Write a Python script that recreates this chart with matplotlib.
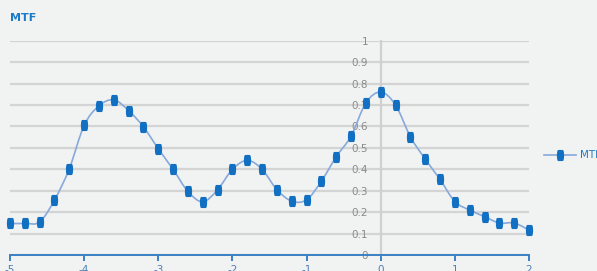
import matplotlib.pyplot as plt
import numpy as np
from matplotlib.path import Path
from matplotlib.patches import PathPatch
from matplotlib import font_manager

# prefer a narrow face, like the condensed font of the original
try:
    font_manager.findfont('Liberation Sans Narrow', fallback_to_default=False)
    plt.rcParams['font.family'] = ['Liberation Sans Narrow', 'DejaVu Sans']
    narrow = True
except Exception:
    plt.rcParams['font.family'] = ['DejaVu Sans']
    narrow = False

# MTF curve, sampled every 0.2 from -5 to 2
x_vals = [-5.0, -4.8, -4.6, -4.4, -4.2, -4.0, -3.8, -3.6, -3.4, -3.2,
          -3.0, -2.8, -2.6, -2.4, -2.2, -2.0, -1.8, -1.6, -1.4, -1.2,
          -1.0, -0.8, -0.6, -0.4, -0.2, 0.0, 0.2, 0.4, 0.6, 0.8,
          1.0, 1.2, 1.4, 1.6, 1.8, 2.0]
mtf_vals = [0.148, 0.148, 0.155, 0.257, 0.403, 0.605, 0.696, 0.724, 0.674, 0.598,
            0.496, 0.400, 0.297, 0.249, 0.305, 0.400, 0.442, 0.400, 0.305, 0.252,
            0.258, 0.345, 0.459, 0.555, 0.710, 0.760, 0.700, 0.552, 0.448, 0.353,
            0.250, 0.210, 0.180, 0.150, 0.150, 0.117]
x_ticks = [-5, -4, -3, -2, -1, 0, 1, 2]
y_ticks = [0, 0.1, 0.2, 0.3, 0.4, 0.5, 0.6, 0.7, 0.8, 0.9, 1]
y_labels = ['0', '0.1', '0.2', '0.3', '0.4', '0.5', '0.6', '0.7', '0.8', '0.9', '1']

bg = '#f1f2f2'
blue = '#1270c2'
axis_blue = '#3a80c4'
line_blue = '#86a9dc'
grey_txt = '#8a8a8a'
fs = 8.5 if narrow else 7.5


def spline_path(xs, ys, t=0.5):
    # cardinal spline as cubic bezier segments
    xs = np.asarray(xs); ys = np.asarray(ys)
    n = len(xs)
    verts = [(xs[0], ys[0])]
    codes = [Path.MOVETO]
    for i in range(n - 1):
        p0 = np.array([xs[max(i - 1, 0)], ys[max(i - 1, 0)]])
        p1 = np.array([xs[i], ys[i]])
        p2 = np.array([xs[i + 1], ys[i + 1]])
        p3 = np.array([xs[min(i + 2, n - 1)], ys[min(i + 2, n - 1)]])
        c1 = p1 + (p2 - p0) * t / 3
        c2 = p2 - (p3 - p1) * t / 3
        verts += [tuple(c1), tuple(c2), tuple(p2)]
        codes += [Path.CURVE4] * 3
    return Path(verts, codes)


# vertical capsule marker
theta = np.linspace(0, 2 * np.pi, 40)
capsule = Path(np.column_stack([0.6 * np.cos(theta),
                                np.sign(np.sin(theta)) * np.minimum(1, np.abs(np.sin(theta)) * 1.6)]))

fig = plt.figure(figsize=(5.97, 2.71), dpi=100, facecolor=bg)
ax = fig.add_axes([10 / 597, 15.8 / 271, 519 / 597, 214.6 / 271])
ax.set_facecolor(bg)

ax.set_xlim(-5, 2)
ax.set_ylim(0, 1)

ax.yaxis.grid(True, color='#d4d4d4', lw=1.6)
ax.set_axisbelow(True)

ax.add_patch(PathPatch(spline_path(x_vals, mtf_vals), fill=False, ec=line_blue, lw=1.2, zorder=3))
ax.plot(x_vals, mtf_vals, ls='none', marker=capsule, ms=7, color=blue, mec=blue, zorder=4, clip_on=False)

for s in ['top', 'right']:
    ax.spines[s].set_visible(False)
ax.spines['left'].set_position(('data', 0))
ax.spines['left'].set_color('#d0d0d0')
ax.spines['left'].set_linewidth(1.6)
ax.spines['left'].set_zorder(1)
ax.spines['bottom'].set_color(axis_blue)
ax.spines['bottom'].set_linewidth(1.4)
ax.spines['bottom'].set_zorder(2)

ax.set_yticks(y_ticks)
ax.set_yticklabels(y_labels)
ax.tick_params(axis='y', length=0, pad=9, labelsize=fs, labelcolor=grey_txt)
ax.set_xticks(x_ticks)
ax.set_xticklabels([str(v) for v in x_ticks])
ax.tick_params(axis='x', direction='out', length=4.5, width=1.4, color=axis_blue,
               pad=2.5, labelsize=fs, labelcolor='#4d7fb5')

fig.text(10 / 597, 1 - 18 / 271, 'MTF', color='#1a7bc8', fontsize=9.5 if narrow else 8,
         fontweight='bold', va='center', ha='left')

# legend
lx0, lx1, ly = 544 / 597, 576 / 597, 1 - 155 / 271
fig.add_artist(plt.Line2D([lx0, lx1], [ly, ly], color=line_blue, lw=1.2, transform=fig.transFigure))
fig.add_artist(plt.Line2D([(lx0 + lx1) / 2], [ly], ls='none', marker=capsule, ms=7, color=blue,
                          transform=fig.transFigure))
fig.text(580 / 597, ly, 'MTF', color='#1a7bc8', fontsize=fs, va='center', ha='left')

fig.savefig('out.png', dpi=100, facecolor=bg)
